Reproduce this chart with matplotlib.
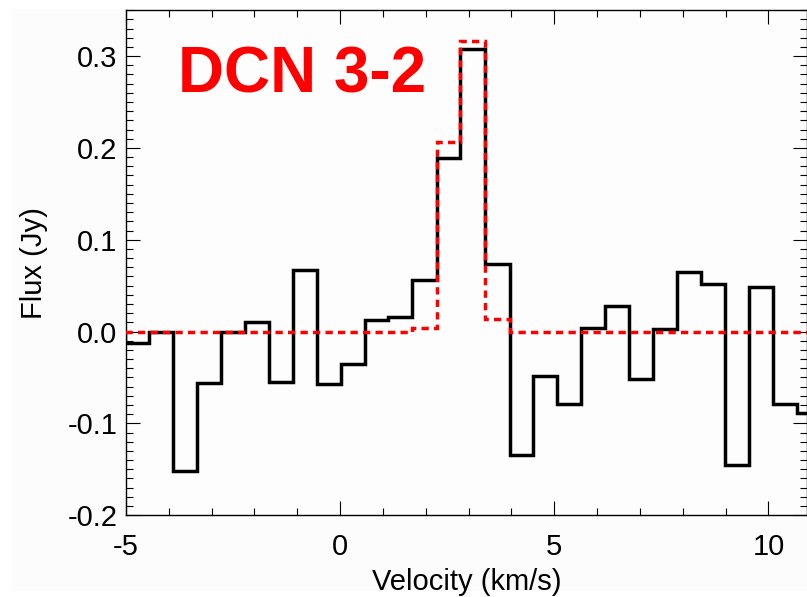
import numpy as np
import matplotlib
matplotlib.use("Agg")
import matplotlib.pyplot as plt
from matplotlib.ticker import MultipleLocator, FormatStrFormatter
from matplotlib.patches import Rectangle

# channel edges (km/s)
vel_edges = [-5.01, -4.45, -3.90, -3.33, -2.77, -2.22, -1.65, -1.10, -0.53,
             0.02, 0.58, 1.13, 1.69, 2.27, 2.81, 3.39, 3.96, 4.51, 5.06,
             5.62, 6.18, 6.75, 7.30, 7.87, 8.43, 8.99, 9.54, 10.10, 10.66, 11.22]

# observed DCN 3-2 flux per channel (Jy)
flux_obs = [-0.013, 0.000, -0.152, -0.056, 0.000, 0.010, -0.055, 0.067,
            -0.057, -0.035, 0.013, 0.016, 0.056, 0.189, 0.308, 0.074,
            -0.134, -0.048, -0.079, 0.004, 0.028, -0.052, 0.003, 0.065,
            0.052, -0.145, 0.049, -0.079, -0.089]

# model spectrum (Jy)
flux_model = [0.0, 0.0, 0.0, 0.0, 0.0, 0.0, 0.0, 0.0, 0.0, 0.0, 0.0, 0.0,
              0.004, 0.206, 0.316, 0.014, 0.0, 0.0, 0.0, 0.0, 0.0, 0.0,
              0.0, 0.0, 0.0, 0.0, 0.0, 0.0, 0.0]

plt.rcParams['font.family'] = ['Liberation Sans', 'DejaVu Sans']
plt.rcParams['axes.unicode_minus'] = False

fig = plt.figure(figsize=(8.07, 5.97), dpi=100)
fig.patch.set_facecolor('white')
# faint grey page behind the plot
fig.patches.append(Rectangle((0.015, 0.01), 0.985, 0.975, transform=fig.transFigure,
                             facecolor='#fcfcfc', edgecolor='none', zorder=-10))
ax = fig.add_axes([0.156, 0.137, 0.844, 0.846])
ax.set_facecolor('#fdfdfd')

ax.stairs(flux_obs, vel_edges, color='black', linewidth=2.5, zorder=3)
ax.stairs(flux_model, vel_edges, color='#ff0000', linewidth=2.5,
          linestyle=(0, (2.1, 1.5)), zorder=4)

ax.set_xlim(-5, 10.9)
ax.set_ylim(-0.2, 0.35)

ax.xaxis.set_major_locator(MultipleLocator(5))
ax.xaxis.set_minor_locator(MultipleLocator(1))
ax.yaxis.set_major_locator(MultipleLocator(0.1))
ax.yaxis.set_minor_locator(MultipleLocator(0.01))
ax.yaxis.set_major_formatter(FormatStrFormatter('%.1f'))
ax.set_yticks([-0.2, -0.1, 0.0, 0.1, 0.2, 0.3])

ax.tick_params(which='both', direction='in', top=True, right=True, width=0.8)
ax.tick_params(which='major', length=10, labelsize=21)
ax.tick_params(axis='x', which='major', pad=13)
ax.tick_params(axis='y', which='major', pad=6)
ax.tick_params(which='minor', length=5)
for sp in ax.spines.values():
    sp.set_linewidth(1.0)

ax.set_xlabel('Velocity (km/s)', fontsize=21, labelpad=5)
ax.set_ylabel('Flux (Jy)', fontsize=21, labelpad=14)

ax.text(0.076, 0.836, 'DCN 3-2', transform=ax.transAxes, color='#ff0000',
        fontsize=46, fontweight='bold', ha='left', va='baseline')

fig.savefig('out.png', dpi=100)
